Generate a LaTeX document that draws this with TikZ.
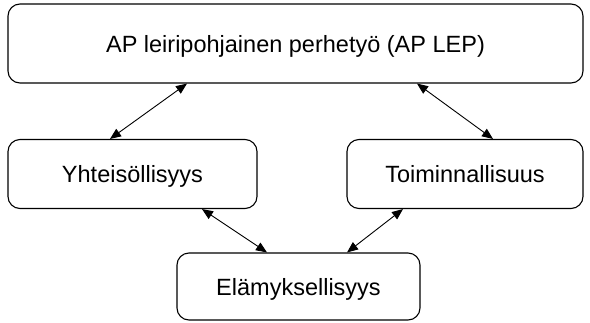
\documentclass[tikz,border=0pt]{standalone}
\usepackage{fontspec}
\setmainfont{Liberation Sans}
\usetikzlibrary{arrows.meta}
\begin{document}
\begin{tikzpicture}[x=1pt,y=-1pt,
  box/.style={draw, line width=1.1pt, rounded corners=12pt, inner sep=0pt,
    text height=17pt, text depth=0pt,
    font=\fontsize{23.5}{28}\selectfont},
  link/.style={line width=0.9pt, {Triangle[length=11pt,width=9pt]}-{Triangle[length=11pt,width=9pt]}}]
\useasboundingbox (0,0) rectangle (590,322);
\node[box, minimum width=575pt, minimum height=79pt] (top) at (295.5,43.5) {AP leiripohjainen perhetyö (AP LEP)};
\node[box, minimum width=249pt, minimum height=69pt] (yht) at (132.5,174) {Yhteisöllisyys};
\node[box, minimum width=236pt, minimum height=69pt] (toim) at (465,174) {Toiminnallisuus};
\node[box, minimum width=243pt, minimum height=67pt] (elam) at (298.5,286.5) {Elämyksellisyys};
\draw[link] ([xshift=-108.5pt]top.south) -- ([xshift=-22.5pt]yht.north);
\draw[link] ([xshift=121.5pt]top.south) -- ([xshift=28pt]toim.north);
\draw[link] ([xshift=69.5pt]yht.south) -- ([xshift=-31.5pt]elam.north);
\draw[link] ([xshift=-62pt]toim.south) -- ([xshift=48.5pt]elam.north);
\end{tikzpicture}
\end{document}
